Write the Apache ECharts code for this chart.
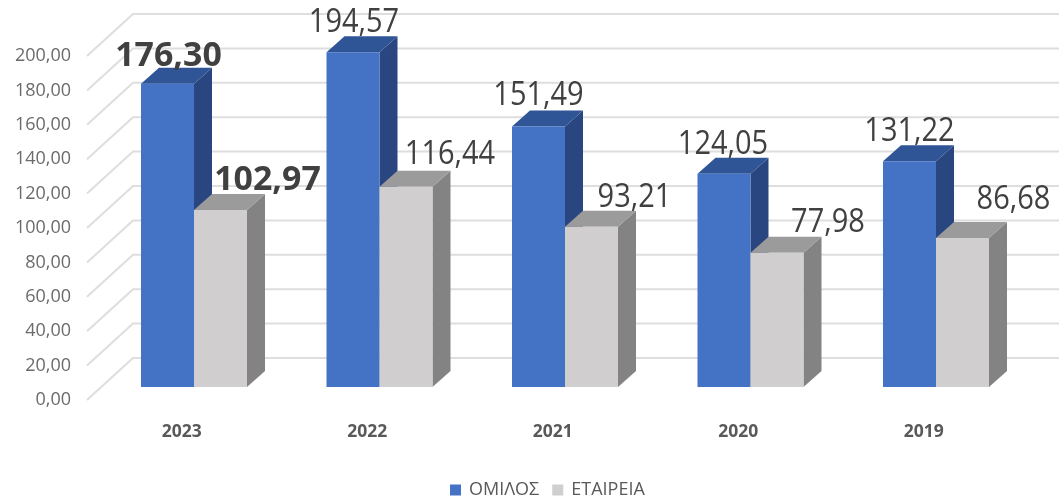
<!DOCTYPE html>
<html>
<head>
<meta charset="utf-8">
<script src="https://cdn.jsdelivr.net/npm/echarts@6/dist/echarts.min.js"></script>
<style>html,body{margin:0;padding:0;background:#fff}#c{width:1059px;height:501px}</style>
</head>
<body>
<div id="c"></div>
<script>
const categories = ['2023', '2022', '2021', '2020', '2019'];
const omilos = [176.30, 194.57, 151.49, 124.05, 131.22];
const etaireia = [102.97, 116.44, 93.21, 77.98, 86.68];
const yTicks = [0, 20, 40, 60, 80, 100, 120, 140, 160, 180, 200];
const seriesNames = ['ΟΜΙΛΟΣ', 'ΕΤΑΙΡΕΙΑ'];
const boldCategories = ['2023'];

// label placement relative to each bar's top-centre, as in the reference
const omilosLabelDx = [1, 1, 0, -1, 0];
const omilosLabelDy = [-28, -30, -31, -29, -30];
const etaireiaLabelDx = [47, 44, 43, 51, 51];
const etaireiaLabelDy = [-30, -32, -29, -30, -38];

const FONT = '"Open Sans", sans-serif';
const BAR_W = 53, DX = 18, DY = 16;
const fmt = v => v.toFixed(2).replace('.', ',');

function barRenderer(side, faces, ldx, ldy) {
  return function (params, api) {
    const i = api.value(0), v = api.value(1);
    const top = api.coord([i, v]);
    const base = api.coord([i, 0]);
    const x = side < 0 ? top[0] - BAR_W : top[0];
    const yT = top[1], yB = base[1], xR = x + BAR_W;
    const bold = boldCategories.includes(categories[i]);
    return {
      type: 'group',
      children: [
        { type: 'polygon', shape: { points: [[xR, yT], [xR + DX, yT - DY], [xR + DX, yB - DY], [xR, yB]] }, style: { fill: faces.side } },
        { type: 'polygon', shape: { points: [[x, yT], [x + DX, yT - DY], [xR + DX, yT - DY], [xR, yT]] }, style: { fill: faces.top } },
        { type: 'rect', shape: { x: x, y: yT, width: BAR_W, height: yB - yT }, style: { fill: faces.front } },
        { type: 'text', z2: 50,
          x: x + BAR_W / 2 + ldx[i], y: yT + ldy[i], scaleX: bold ? 1.06 : 1, scaleY: bold ? 1.08 : 1.12,
          style: {
            x: 0, y: 0, text: fmt(v),
            align: 'center', verticalAlign: 'middle', fill: '#404040',
            font: (bold ? 'bold 32px ' : '29px ') + FONT } }
      ]
    };
  };
}

const chart = echarts.init(document.getElementById('c'), null, { renderer: 'canvas' });
chart.setOption({
  animation: false,
  backgroundColor: '#fff',
  legend: {
    data: seriesNames, left: 445, top: 476, itemWidth: 11, itemHeight: 11, itemGap: 13, icon: 'rect',
    textStyle: { color: '#595959', fontSize: 18, fontFamily: FONT, padding: [0, 0, 0, 3] }, selectedMode: false
  },
  grid: [
    { left: 101.25, top: 43, width: 927.5, height: 344 },
    { left: 89, top: 56, width: 927.5, height: 344 }
  ],
  xAxis: [
    { type: 'category', gridIndex: 0, data: categories, show: false },
    { type: 'category', gridIndex: 1, data: categories,
      axisLine: { show: false }, axisTick: { show: false },
      axisLabel: { margin: 23, color: '#595959', fontWeight: 'bold', fontSize: 17.5, fontFamily: FONT } }
  ],
  yAxis: [
    { type: 'value', gridIndex: 0, min: 0, max: 200, interval: 20, show: false },
    { type: 'value', gridIndex: 1, min: 0, max: 200, interval: 20, splitLine: { show: false },
      axisLine: { show: false }, axisTick: { show: false },
      axisLabel: { margin: 18, color: '#6b6b6b', fontSize: 18, fontFamily: FONT, formatter: v => fmt(v) } }
  ],
  series: [
    { type: 'custom', name: 'grid', xAxisIndex: 1, yAxisIndex: 1, silent: true, z: 1,
      data: yTicks.map(t => [0, t]),
      renderItem: function (params, api) {
        const y = api.coord([0, api.value(1)])[1];
        const x0 = params.coordSys.x - 2;
        return { type: 'polyline',
          shape: { points: [[x0, y], [x0 + 46, y - 42], [api.getWidth(), y - 42]] },
          style: { stroke: '#dedede', lineWidth: 2, fill: null } };
      } },
    { type: 'custom', name: seriesNames[0], xAxisIndex: 0, yAxisIndex: 0, z: 2,
      itemStyle: { color: '#4472C4' },
      data: omilos.map((v, i) => [i, v]), encode: { x: 0, y: 1 },
      renderItem: barRenderer(-1, { front: '#4472C4', top: '#2F5597', side: '#294680' }, omilosLabelDx, omilosLabelDy) },
    { type: 'custom', name: seriesNames[1], xAxisIndex: 0, yAxisIndex: 0, z: 3,
      itemStyle: { color: '#D0CECE' },
      data: etaireia.map((v, i) => [i, v]), encode: { x: 0, y: 1 },
      renderItem: barRenderer(1, { front: '#D0CECE', top: '#9C9B9B', side: '#848383' }, etaireiaLabelDx, etaireiaLabelDy) }
  ]
});
</script>
</body>
</html>
